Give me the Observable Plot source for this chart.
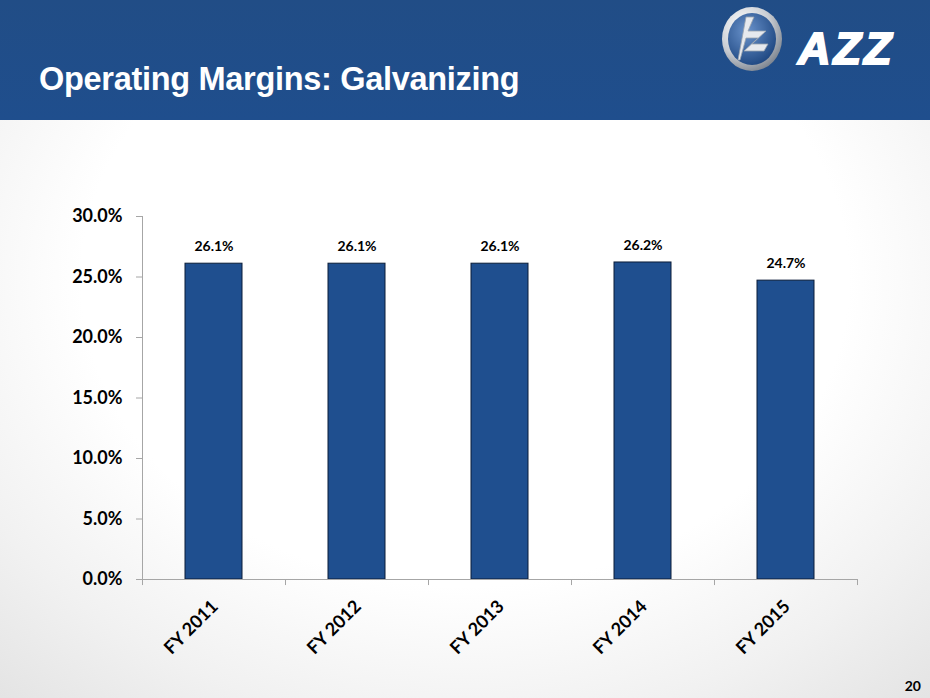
<!DOCTYPE html>
<html>
<head>
<meta charset="utf-8">
<script src="https://cdn.jsdelivr.net/npm/d3@7"></script>
<script src="https://cdn.jsdelivr.net/npm/@observablehq/plot@0.6"></script>
<style>
  html, body { margin: 0; padding: 0; }
  body {
    width: 930px; height: 698px; position: relative; overflow: hidden;
    background: radial-gradient(ellipse 75% 80% at 50% 40%, #ffffff 55%, #f1f1f1 80%, #e4e4e4 100%);
    font-family: "Liberation Sans", Arial, sans-serif;
  }
  #header {
    position: absolute; left: 0; top: 0; width: 930px; height: 120px;
    background: linear-gradient(180deg, #214d86 0%, #1f4e8d 100%);
  }
  #title {
    position: absolute; left: 39px; top: 61px;
    color: #fff; font-weight: bold; font-size: 32.5px; letter-spacing: -0.3px;
    font-family: "Liberation Sans", Arial, sans-serif;
  }
  #logo { position: absolute; left: 718px; top: 4px; }
  #chart { position: absolute; left: 0; top: 130px; }
  #page {
    position: absolute; right: 9px; bottom: 4px; font-weight: bold; font-size: 14px;
    font-family: Lato, "Open Sans", sans-serif; color: #000;
  }
</style>
</head>
<body>
<div id="header">
  <div id="title">Operating Margins: Galvanizing</div>
  <svg id="logo" width="190" height="72" viewBox="0 0 190 72">
    <defs>
      <radialGradient id="ring" cx="35%" cy="30%" r="75%">
        <stop offset="0" stop-color="#ffffff"/>
        <stop offset="0.6" stop-color="#c9cdd3"/>
        <stop offset="1" stop-color="#7d8590"/>
      </radialGradient>
      <radialGradient id="inner" cx="40%" cy="35%" r="70%">
        <stop offset="0" stop-color="#6a93cc"/>
        <stop offset="1" stop-color="#1d4680"/>
      </radialGradient>
    </defs>
    <ellipse cx="34" cy="35" rx="30" ry="32" fill="url(#ring)"/>
    <ellipse cx="34" cy="35" rx="24" ry="26" fill="url(#inner)"/>
    <path d="M20 56 L28 13 L36 13 L30 27 L48 27 L34 40 L50 40 L46 47 L26 47 L40 34 L28 34 L22 56 Z" fill="#e6e9ee" stroke="#9aa3ad" stroke-width="0.8"/>
    <text x="80" y="60" fill="#fff" stroke="#fff" stroke-width="2" font-family="Liberation Sans, Arial" font-weight="bold" font-style="italic" font-size="45" letter-spacing="3">AZZ</text>
  </svg>
</div>
<div id="chart"></div>
<div id="page">20</div>
<script>
const categories = ["FY 2011", "FY 2012", "FY 2013", "FY 2014", "FY 2015"];
const margins = [26.1, 26.1, 26.1, 26.2, 24.7];
const yTicks = [0, 5, 10, 15, 20, 25, 30];

const data = categories.map((c, i) => ({cat: c, v: margins[i]}));
const fontFam = "Lato, 'Open Sans', sans-serif";

const chart = Plot.plot({
  width: 930,
  height: 560,
  marginLeft: 142,
  marginRight: 73,
  marginTop: 86,
  marginBottom: 111,
  style: {background: "transparent", fontFamily: fontFam, color: "#000", overflow: "visible"},
  x: {domain: categories, paddingInner: 0.6, paddingOuter: 0.3, label: null},
  y: {domain: [0, 30], label: null},
  marks: [
    Plot.barY(data, {x: "cat", y: "v", fill: "#1f4f8f", stroke: "#0b1d38", strokeWidth: 1}),
    Plot.text(data, {x: "cat", y: "v", text: d => d.v.toFixed(1) + "%", dy: -17, fontWeight: "bold", fontSize: 14, fill: "#000"}),
    Plot.axisY({ticks: yTicks, tickFormat: d => d.toFixed(1) + "%", tickSize: 6, stroke: "#a6a6a6", tickPadding: 14, fontWeight: "bold", fontSize: 18, fill: "#000"}),
    Plot.axisX({tickSize: 0, tickRotate: -45, tickPadding: 24, fontWeight: "bold", fontSize: 18, fill: "#000", dx: 1}),
    Plot.ruleX(categories, {x: d => d, y1: 0, y2: -0.5, dx: -71.5, stroke: "#a6a6a6"}),
    Plot.ruleX(categories.slice(-1), {x: d => d, y1: 0, y2: -0.5, dx: 71.5, stroke: "#a6a6a6"}),
    Plot.frame({anchor: "left", stroke: "#a6a6a6"}),
    Plot.frame({anchor: "bottom", stroke: "#a6a6a6"})
  ]
});
document.getElementById("chart").appendChild(chart);
</script>
</body>
</html>
